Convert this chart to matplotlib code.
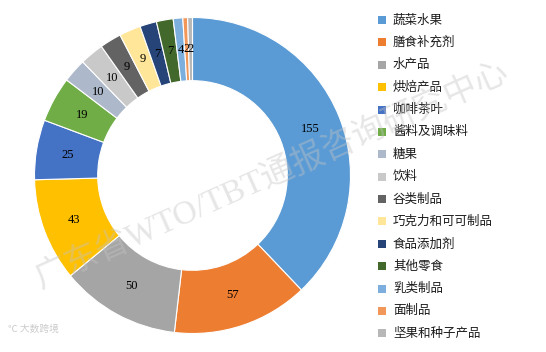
import numpy as np
import matplotlib.pyplot as plt
from matplotlib.patches import Rectangle

# ====== DATA ======
categories = ["蔬菜水果", "膳食补充剂", "水产品", "烘焙产品", "咖啡茶叶", "酱料及调味料",
              "糖果", "饮料", "谷类制品", "巧克力和可可制品", "食品添加剂", "其他零食",
              "乳类制品", "面制品", "坚果和种子产品"]
values = [155, 57, 50, 43, 25, 19, 10, 10, 9, 9, 7, 7, 4, 2, 2]
colors = ["#5B9BD5", "#ED7D31", "#A5A5A5", "#FFC000", "#4472C4", "#70AD47",
          "#ADB9CA", "#C9C9C9", "#636363", "#FFE699", "#264478", "#43682B",
          "#7CAFDD", "#F1975A", "#B7B7B7"]

W, H = 546, 352
fig = plt.figure(figsize=(W / 100, H / 100), dpi=100)

# ====== DONUT ======
cx, cy, R = 192.5, 175.5, 158
ax = fig.add_axes([(cx - R) / W, (H - cy - R) / H, 2 * R / W, 2 * R / H])
wedges, _ = ax.pie(values, colors=colors, startangle=90, counterclock=False,
                   radius=1.0, wedgeprops=dict(width=0.40, edgecolor="white", linewidth=0.8))
for w, v in zip(wedges, values):
    a = np.deg2rad((w.theta1 + w.theta2) / 2)
    ax.text(0.8 * np.cos(a), 0.8 * np.sin(a), str(v), ha="center", va="center",
            fontsize=9, family="Liberation Serif", color="black")
ax.set_xlim(-1, 1)
ax.set_ylim(-1, 1)
ax.set_aspect("equal")
ax.axis("off")

# ====== LEGEND ======
y0, dy = 20, 22.38
for i, (lab, c) in enumerate(zip(categories, colors)):
    y = y0 + i * dy
    fig.patches.append(Rectangle((378 / W, (H - y - 4) / H), 8 / W, 8 / H,
                                 transform=fig.transFigure, facecolor=c, edgecolor="none"))
    fig.text(393 / W, (H - y) / H, lab, ha="left", va="center", fontsize=9,
             family=["Noto Sans CJK SC", "DejaVu Sans"], color="#1a1a1a")

# ====== WATERMARK ======
fig.text(272 / W, 1 - 176 / H, "广东省WTO/TBT通报咨询研究中心", rotation=24,
         rotation_mode="anchor", ha="center", va="center", fontsize=24,
         family=["Liberation Serif", "Noto Sans CJK SC"], color="#c4c4c4", alpha=0.42,
         zorder=10)
fig.text(8 / W, 1 - 329 / H, "℃ 大数跨境", ha="left", va="center", fontsize=7,
         family=["Noto Sans CJK SC", "DejaVu Sans"], color="#cccccc")

fig.savefig("out.png", dpi=100)
